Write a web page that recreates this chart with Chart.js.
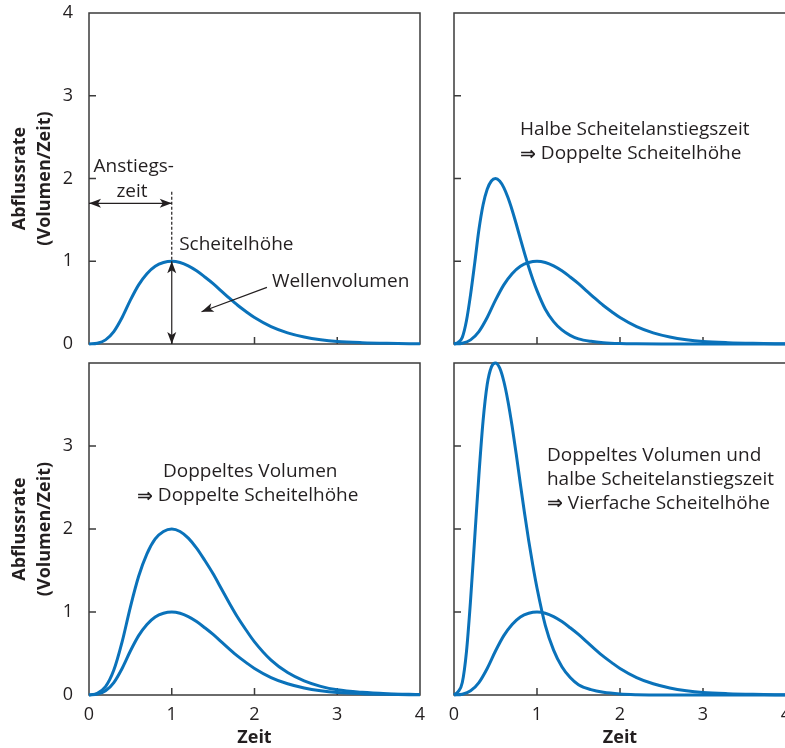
<!DOCTYPE html>
<html>
<head>
<meta charset="utf-8">
<script src="https://cdn.jsdelivr.net/npm/chart.js@4"></script>
<style>
  html, body { margin: 0; padding: 0; background: #fff; overflow: hidden; }
  .panel { position: absolute; }
</style>
</head>
<body>
<canvas id="topLeft" class="panel" width="430" height="350" style="left:0;top:0"></canvas>
<canvas id="topRight" class="panel" width="366" height="350" style="left:430px;top:0"></canvas>
<canvas id="bottomLeft" class="panel" width="430" height="398" style="left:0;top:350px"></canvas>
<canvas id="bottomRight" class="panel" width="366" height="398" style="left:430px;top:350px"></canvas>
<script>
// values
const timeBase = [0, 0.1, 0.2, 0.3, 0.4, 0.5, 0.6, 0.7, 0.8, 0.9, 1.0, 1.1, 1.2, 1.3, 1.4, 1.5,
  1.6, 1.7, 1.8, 1.9, 2.0, 2.2, 2.4, 2.6, 2.8, 3.0, 3.3, 3.6, 4.0];
const flowBase = [0, 0.01, 0.05, 0.15, 0.32, 0.53, 0.715, 0.85, 0.94, 0.985, 1.0, 0.985, 0.945, 0.885, 0.81, 0.73,
  0.64, 0.55, 0.465, 0.39, 0.32, 0.21, 0.135, 0.085, 0.052, 0.031, 0.016, 0.008, 0.003];
const flowDoubleVolume = [0, 0.02, 0.1, 0.3, 0.64, 1.06, 1.43, 1.7, 1.88, 1.97, 2.0, 1.97, 1.89, 1.77, 1.62, 1.46,
  1.28, 1.1, 0.93, 0.78, 0.64, 0.42, 0.27, 0.17, 0.104, 0.062, 0.032, 0.016, 0.006];

const timeHalf = [0, 0.05, 0.1, 0.15, 0.2, 0.25, 0.3, 0.35, 0.4, 0.45, 0.5, 0.55, 0.6, 0.65, 0.7, 0.75,
  0.8, 0.85, 0.9, 0.95, 1.0, 1.1, 1.2, 1.3, 1.4, 1.5, 1.65, 1.8, 2.0, 2.2, 2.5, 3.0, 4.0];
const flowHalfRise = [0, 0.02, 0.08, 0.28, 0.6, 0.98, 1.38, 1.68, 1.87, 1.97, 2.0, 1.97, 1.89, 1.77, 1.62, 1.45,
  1.27, 1.095, 0.93, 0.78, 0.645, 0.42, 0.27, 0.17, 0.104, 0.062, 0.032, 0.016, 0.006, 0.002, 0, 0, 0];
const flowDoubleHalf = [0, 0.04, 0.15, 0.52, 1.15, 1.9, 2.65, 3.3, 3.74, 3.95, 4.0, 3.94, 3.78, 3.54, 3.24, 2.9,
  2.54, 2.19, 1.86, 1.56, 1.29, 0.84, 0.54, 0.34, 0.21, 0.124, 0.064, 0.032, 0.012, 0.004, 0, 0, 0];

const axisMin = 0;
const axisMax = 4;
const xTitle = 'Zeit';
const yTitle = ['Abflussrate', '(Volumen/Zeit)'];

const lineBlue = '#0a72ba';
const inkColor = '#231f20';
const frameColor = '#3b3b3b';
const fontFamily = '"Open Sans", "DejaVu Sans", sans-serif';
const noteFont = '19px ' + fontFamily;
const arrowGlyphFont = 'bold 19px "DejaVu Sans", sans-serif';

Chart.defaults.font.family = fontFamily;
Chart.defaults.color = inkColor;

const toPoints = (xs, ys) => xs.map((x, i) => ({ x: x, y: ys[i] }));

// box round the plot area plus short inward ticks
const framePlugin = {
  id: 'frame',
  beforeDatasetsDraw(chart) {
    const { ctx, chartArea: a, scales: { x, y } } = chart;
    ctx.save();
    ctx.strokeStyle = frameColor;
    ctx.lineWidth = 1.5;
    ctx.strokeRect(a.left, a.top, a.right - a.left, a.bottom - a.top);
    ctx.beginPath();
    x.ticks.forEach(t => {
      if (t.value <= axisMin || t.value >= axisMax) return;
      const px = x.getPixelForValue(t.value);
      ctx.moveTo(px, a.bottom);
      ctx.lineTo(px, a.bottom - 7);
    });
    y.ticks.forEach(t => {
      if (t.value <= axisMin || t.value >= axisMax) return;
      const py = y.getPixelForValue(t.value);
      ctx.moveTo(a.left, py);
      ctx.lineTo(a.left + 7, py);
    });
    ctx.stroke();
    ctx.restore();
  }
};

function arrowHead(ctx, x0, y0, x1, y1) {
  const ang = Math.atan2(y1 - y0, x1 - x0);
  const len = 12, half = 4.5;
  ctx.save();
  ctx.translate(x1, y1);
  ctx.rotate(ang);
  ctx.beginPath();
  ctx.moveTo(0, 0);
  ctx.lineTo(-len, -half);
  ctx.lineTo(-len + 3, 0);
  ctx.lineTo(-len, half);
  ctx.closePath();
  ctx.fill();
  ctx.restore();
}

// text and arrows placed in data units
const notesPlugin = {
  id: 'notes',
  afterDatasetsDraw(chart, args, opts) {
    const { ctx, scales: { x, y } } = chart;
    ctx.save();
    ctx.fillStyle = inkColor;
    ctx.strokeStyle = inkColor;
    ctx.textBaseline = 'middle';
    (opts.labels || []).forEach(l => {
      let px = x.getPixelForValue(l.x);
      const py = y.getPixelForValue(l.y);
      let text = l.text;
      ctx.textAlign = l.align || 'left';
      if (text.startsWith('⇒')) {
        // the implication arrow is set heavier in the original
        ctx.font = arrowGlyphFont;
        ctx.fillText('⇒', px, py + 1);
        px += ctx.measureText('⇒').width;
        text = text.slice(1);
      }
      ctx.font = noteFont;
      ctx.fillText(text, px, py);
    });
    (opts.arrows || []).forEach(ar => {
      const x0 = x.getPixelForValue(ar.from[0]), y0 = y.getPixelForValue(ar.from[1]);
      const x1 = x.getPixelForValue(ar.to[0]), y1 = y.getPixelForValue(ar.to[1]);
      ctx.lineWidth = 1.2;
      ctx.setLineDash(ar.dash || []);
      ctx.beginPath();
      ctx.moveTo(x0, y0);
      ctx.lineTo(x1, y1);
      ctx.stroke();
      ctx.setLineDash([]);
      if (ar.heads === 'end' || ar.heads === 'both') arrowHead(ctx, x0, y0, x1, y1);
      if (ar.heads === 'both') arrowHead(ctx, x1, y1, x0, y0);
    });
    ctx.restore();
  }
};

function makePanel(id, series, o) {
  return new Chart(document.getElementById(id), {
    type: 'line',
    data: {
      datasets: series.map(s => ({
        data: s,
        borderColor: lineBlue,
        borderWidth: 3,
        borderJoinStyle: 'round',
        pointRadius: 0,
        cubicInterpolationMode: 'monotone',
        fill: false,
        clip: false
      }))
    },
    options: {
      responsive: false,
      animation: false,
      events: [],
      layout: { padding: { top: 13, right: 10, left: 0, bottom: 0 } },
      plugins: {
        legend: { display: false },
        tooltip: { enabled: false },
        notes: o.notes
      },
      scales: {
        x: {
          type: 'linear',
          min: axisMin,
          max: axisMax,
          ticks: { stepSize: 1, display: o.xLabels, padding: 9, font: { size: 18 }, color: inkColor },
          grid: { display: false, drawTicks: false },
          border: { display: false },
          title: {
            display: o.xLabels,
            text: xTitle,
            color: inkColor,
            padding: 0,
            font: { size: 18, weight: 'bold', lineHeight: '20px' }
          },
          afterFit: s => {
            s.height = o.xHeight;
            s.paddingLeft = s.paddingRight = s.paddingTop = s.paddingBottom = 0;
          }
        },
        y: {
          min: axisMin,
          max: axisMax,
          ticks: {
            stepSize: 1,
            display: o.yLabels,
            padding: 16,
            font: { size: 18 },
            color: inkColor,
            callback: v => (o.hideTopTick && v === axisMax) ? '' : v
          },
          grid: { display: false, drawTicks: false },
          border: { display: false },
          title: {
            display: o.yLabels,
            text: yTitle,
            color: inkColor,
            padding: { top: 7.5, bottom: 0 },
            font: { size: 18, weight: 'bold', lineHeight: '25px' }
          },
          afterFit: s => {
            s.width = o.yWidth;
            s.paddingLeft = s.paddingRight = s.paddingTop = s.paddingBottom = 0;
          }
        }
      }
    },
    plugins: [framePlugin, notesPlugin]
  });
}

const baseCurve = toPoints(timeBase, flowBase);

makePanel('topLeft', [baseCurve], {
  xLabels: false, yLabels: true, yWidth: 89, xHeight: 6,
  notes: {
    labels: [
      { text: 'Anstiegs-', x: 0.54, y: 2.14, align: 'center' },
      { text: 'zeit', x: 0.52, y: 1.84, align: 'center' },
      { text: 'Scheitelhöhe', x: 1.09, y: 1.2 },
      { text: 'Wellenvolumen', x: 2.21, y: 0.76 }
    ],
    arrows: [
      { from: [0, 1.7], to: [1, 1.7], heads: 'both' },
      { from: [1, 1.84], to: [1, 1.0], dash: [3, 2] },
      { from: [1, 1.0], to: [1, 0], heads: 'both' },
      { from: [2.15, 0.685], to: [1.36, 0.39], heads: 'end' }
    ]
  }
});

makePanel('topRight', [baseCurve, toPoints(timeHalf, flowHalfRise)], {
  xLabels: false, yLabels: false, yWidth: 24, xHeight: 6,
  notes: {
    labels: [
      { text: 'Halbe Scheitelanstiegszeit', x: 0.795, y: 2.59 },
      { text: '⇒ Doppelte Scheitelhöhe', x: 0.795, y: 2.3 }
    ]
  }
});

makePanel('bottomLeft', [baseCurve, toPoints(timeBase, flowDoubleVolume)], {
  xLabels: true, yLabels: true, hideTopTick: true, yWidth: 89, xHeight: 53,
  notes: {
    labels: [
      { text: 'Doppeltes Volumen', x: 0.894, y: 2.69 },
      { text: '⇒ Doppelte Scheitelhöhe', x: 0.58, y: 2.4 }
    ]
  }
});

makePanel('bottomRight', [baseCurve, toPoints(timeHalf, flowDoubleHalf)], {
  xLabels: true, yLabels: false, yWidth: 24, xHeight: 53,
  notes: {
    labels: [
      { text: 'Doppeltes Volumen und', x: 1.12, y: 2.89 },
      { text: 'halbe Scheitelanstiegszeit', x: 1.12, y: 2.6 },
      { text: '⇒ Vierfache Scheitelhöhe', x: 1.12, y: 2.31 }
    ]
  }
});
</script>
</body>
</html>
